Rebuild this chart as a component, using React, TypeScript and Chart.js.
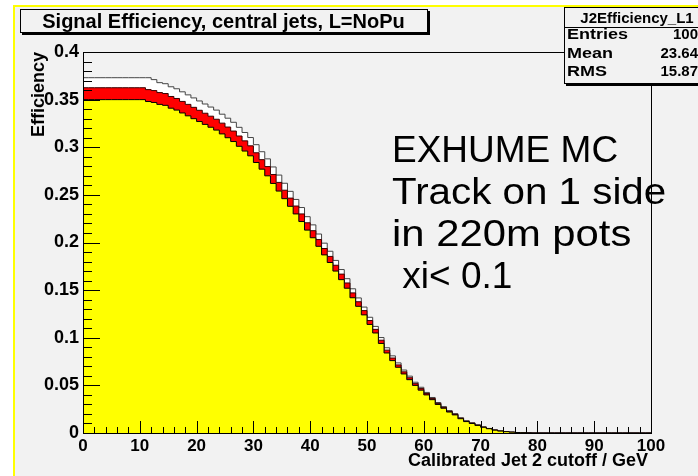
import React, { useEffect, useRef } from "react";
import { Chart, registerables } from "chart.js";

Chart.register(...registerables);

// ---------- data ----------
const binEdges: number[] = Array.from({ length: 101 }, (_, i) => i); // 1 GeV bins, 0..100

// efficiency per bin (bin i = [i, i+1) GeV cutoff)
const yellowEff: number[] = [
  0.350, 0.350, 0.350, 0.350, 0.350, 0.350, 0.350, 0.350, 0.350, 0.350,
  0.350, 0.350, 0.348, 0.347, 0.345, 0.344, 0.341, 0.339, 0.336, 0.333,
  0.330, 0.327, 0.324, 0.321, 0.318, 0.314, 0.310, 0.306, 0.301, 0.296,
  0.291, 0.284, 0.277, 0.270, 0.262, 0.254, 0.246, 0.238, 0.230, 0.222,
  0.213, 0.205, 0.196, 0.187, 0.179, 0.170, 0.161, 0.152, 0.142, 0.133,
  0.124, 0.114, 0.105, 0.094, 0.084, 0.076, 0.069, 0.062, 0.056, 0.050,
  0.045, 0.040, 0.035, 0.030, 0.026, 0.022, 0.019, 0.015, 0.012, 0.010,
  0.008, 0.006, 0.0045, 0.003, 0.002, 0.0014, 0.0009, 0.0005, 0.0003, 0.0001,
  0, 0, 0, 0, 0, 0, 0, 0, 0, 0,
  0, 0, 0, 0, 0, 0, 0, 0, 0, 0,
];

const redEff: number[] = [
  0.3625, 0.3625, 0.3625, 0.3625, 0.3625, 0.3625, 0.3625, 0.3625, 0.3625, 0.3625,
  0.3625, 0.3625, 0.3605, 0.3595, 0.3574, 0.3564, 0.3533, 0.3512, 0.3481, 0.345,
  0.3419, 0.3388, 0.3357, 0.3326, 0.3294, 0.3253, 0.3212, 0.317, 0.3118, 0.3067,
  0.3015, 0.2942, 0.287, 0.2797, 0.2714, 0.2631, 0.2549, 0.2466, 0.2383, 0.23,
  0.2207, 0.2124, 0.2031, 0.1937, 0.1854, 0.1761, 0.1668, 0.1575, 0.1471, 0.1378,
  0.1285, 0.1181, 0.1088, 0.0974, 0.087, 0.0787, 0.0715, 0.0642, 0.058, 0.0518,
  0.0466, 0.0414, 0.0363, 0.0311, 0.0269, 0.0228, 0.0197, 0.0155, 0.0124, 0.0104,
  0.0083, 0.0062, 0.0047, 0.0031, 0.0021, 0.0015, 0.0009, 0.0005, 0.0003, 0.0001,
  0, 0, 0, 0, 0, 0, 0, 0, 0, 0,
  0, 0, 0, 0, 0, 0, 0, 0, 0, 0,
];

const whiteEff: number[] = [
  0.373, 0.373, 0.373, 0.373, 0.373, 0.373, 0.373, 0.373, 0.373, 0.373,
  0.373, 0.373, 0.373, 0.371, 0.3678, 0.3667, 0.3635, 0.3614, 0.3582, 0.355,
  0.3518, 0.3486, 0.3454, 0.3422, 0.339, 0.3347, 0.3305, 0.3262, 0.3209, 0.3155,
  0.3102, 0.3027, 0.2953, 0.2878, 0.2793, 0.2708, 0.2622, 0.2537, 0.2452, 0.2367,
  0.2271, 0.2185, 0.2089, 0.1993, 0.1908, 0.1812, 0.1716, 0.162, 0.1514, 0.1418,
  0.1322, 0.1215, 0.1119, 0.1002, 0.0895, 0.081, 0.0736, 0.0661, 0.0597, 0.0533,
  0.048, 0.0426, 0.0373, 0.032, 0.0277, 0.0235, 0.0203, 0.016, 0.0128, 0.0107,
  0.0085, 0.0064, 0.0048, 0.0032, 0.0021, 0.0015, 0.0009, 0.0005, 0.0003, 0.0001,
  0, 0, 0, 0, 0, 0, 0, 0, 0, 0,
  0, 0, 0, 0, 0, 0, 0, 0, 0, 0,
];

const xMajorStep = 10;
const xMinorStep = 2;
const yMajorStep = 0.05;
const yMinorStep = 0.01;
const xRange = [0, 100];
const yRange = [0, 0.4];

const titleText = "Signal Efficiency, central jets, L=NoPu";
const xTitle = "Calibrated Jet 2 cutoff / GeV";
const yTitle = "Efficiency";
const statsName = "J2Efficiency_L1";
const statsLabels = ["Entries", "Mean", "RMS"];
const statsValues = ["100", "23.64", "15.87"];
const noteLines = ["EXHUME MC", "Track on 1 side", "in 220m pots", " xi< 0.1"];

// ---------- styles ----------
const FONT = '"Liberation Sans", Arial, Helvetica, sans-serif';
const BG = "#f2f2f2";

function toSteps(vals: number[]) {
  return binEdges.map((x, i) => ({ x, y: vals[Math.min(i, vals.length - 1)] }));
}

// draw text stretched horizontally by factor sx
function stretchText(ctx: any, text: string, x: number, y: number, sx: number, align: string) {
  ctx.save();
  ctx.translate(x, y);
  ctx.scale(sx, 1);
  ctx.textAlign = align;
  ctx.fillText(text, 0, 0);
  ctx.restore();
}

const decorPlugin = {
  id: "rootDecor",
  beforeDraw(chart: any) {
    const { ctx, width: W, height: H } = chart;
    ctx.save();
    ctx.fillStyle = "#ffffff";
    ctx.fillRect(0, 0, W, H);
    ctx.fillStyle = BG;
    ctx.fillRect(15, 7, W - 15, H - 7);
    ctx.fillStyle = "#ffff00";
    ctx.fillRect(13, 5, W - 13, 2);
    ctx.fillRect(13, 5, 2, H - 5);
    ctx.restore();
  },
  afterDatasetsDraw(chart: any) {
    const { ctx, chartArea: a, scales } = chart;
    const xs = scales.x;
    const ys = scales.y;
    ctx.save();
    ctx.strokeStyle = "#000";
    ctx.lineWidth = 1;
    ctx.beginPath();
    const nx = Math.round((xRange[1] - xRange[0]) / xMinorStep);
    for (let k = 0; k <= nx; k++) {
      const v = xRange[0] + k * xMinorStep;
      const px = Math.round(xs.getPixelForValue(v)) + 0.5;
      const major = Math.abs(v / xMajorStep - Math.round(v / xMajorStep)) < 1e-6;
      const len = major ? 12 : 6;
      ctx.moveTo(px, a.bottom);
      ctx.lineTo(px, a.bottom - len);
    }
    const ny = Math.round((yRange[1] - yRange[0]) / yMinorStep);
    for (let k = 0; k <= ny; k++) {
      const v = yRange[0] + k * yMinorStep;
      const py = Math.round(ys.getPixelForValue(v)) + 0.5;
      const major = Math.abs(v / yMajorStep - Math.round(v / yMajorStep)) < 1e-6;
      const len = major ? 17 : 9;
      ctx.moveTo(a.left, py);
      ctx.lineTo(a.left + len, py);
    }
    ctx.stroke();
    ctx.strokeRect(Math.round(a.left) + 0.5, Math.round(a.top) + 0.5, Math.round(a.right - a.left), Math.round(a.bottom - a.top));
    ctx.restore();
  },
  afterDraw(chart: any) {
    const { ctx, chartArea: a, width: W } = chart;
    ctx.save();

    // title box with shadow
    const tb = { x: 20, y: 9, w: 407, h: 23 };
    ctx.fillStyle = "#000";
    ctx.fillRect(tb.x + 2, tb.y + 2, tb.w + 1, tb.h + 1);
    ctx.fillStyle = BG;
    ctx.fillRect(tb.x, tb.y, tb.w, tb.h);
    ctx.strokeStyle = "#000";
    ctx.lineWidth = 1;
    ctx.strokeRect(tb.x + 0.5, tb.y + 0.5, tb.w, tb.h);
    ctx.fillStyle = "#000";
    ctx.font = `bold 20px ${FONT}`;
    ctx.textAlign = "center";
    ctx.textBaseline = "alphabetic";
    ctx.fillText(titleText, tb.x + tb.w / 2, 28);

    // stats box
    const sb = { x: 564, y: 7, w: W - 564 + 4, h: 76 };
    ctx.fillStyle = "#000";
    ctx.fillRect(sb.x + 2, sb.y + 2, sb.w, sb.h + 1);
    ctx.fillStyle = BG;
    ctx.fillRect(sb.x, sb.y, sb.w, sb.h);
    ctx.strokeRect(sb.x + 0.5, sb.y + 0.5, sb.w, sb.h);
    ctx.beginPath();
    ctx.moveTo(sb.x, 27.5);
    ctx.lineTo(W, 27.5);
    ctx.stroke();
    ctx.fillStyle = "#000";
    ctx.textBaseline = "alphabetic";
    ctx.font = `bold 15px ${FONT}`;
    stretchText(ctx, statsName, 637, 23, 1.0, "center");
    const rowY = [39, 57.5, 76];
    statsLabels.forEach((lab, i) => {
      stretchText(ctx, lab, 567, rowY[i], 1.2, "left");
      stretchText(ctx, statsValues[i], 698, rowY[i], 1.0, "right");
    });

    // annotation
    ctx.font = `37px ${FONT}`;
    ctx.textAlign = "left";
    ctx.textBaseline = "alphabetic";
    const baseY = [162, 204, 246, 288];
    const noteStretch = [1.0, 1.09, 1.13, 1.0];
    noteLines.forEach((t, i) => stretchText(ctx, t, 392, baseY[i], noteStretch[i], "left"));

    // axis titles
    ctx.font = `bold 18px ${FONT}`;
    ctx.textAlign = "right";
    ctx.fillText(xTitle, a.right - 3, 466);
    ctx.save();
    ctx.translate(44, a.top);
    ctx.rotate(-Math.PI / 2);
    ctx.textAlign = "right";
    ctx.fillText(yTitle, 0, 0);
    ctx.restore();

    ctx.restore();
  },
};

export default function App() {
  const ref = useRef<HTMLCanvasElement | null>(null);
  useEffect(() => {
    if (!ref.current) return;
    const chart = new Chart(ref.current, {
      type: "line",
      data: {
        datasets: [
          {
            label: "yellow",
            data: toSteps(yellowEff),
            stepped: "after",
            fill: "origin",
            backgroundColor: "#ffff00",
            borderColor: "#000000",
            borderWidth: 1,
            pointRadius: 0,
          },
          {
            label: "red",
            data: toSteps(redEff),
            stepped: "after",
            fill: "origin",
            backgroundColor: "#ff0000",
            borderColor: "#3a0000",
            borderWidth: 1,
            pointRadius: 0,
          },
          {
            label: "white",
            data: toSteps(whiteEff),
            stepped: "after",
            fill: "origin",
            backgroundColor: "#ffffff",
            borderColor: "#444444",
            borderWidth: 1,
            pointRadius: 0,
          },
        ],
      },
      options: {
        animation: false,
        responsive: false,
        devicePixelRatio: 1,
        layout: { padding: { left: 0, right: 47, top: 52, bottom: 0 } },
        plugins: { legend: { display: false }, tooltip: { enabled: false } },
        scales: {
          x: {
            type: "linear",
            min: xRange[0],
            max: xRange[1],
            grid: { display: false, drawTicks: false },
            border: { display: false },
            ticks: {
              stepSize: xMajorStep,
              color: "#000",
              font: { family: FONT, size: 17, weight: "bold" },
              padding: 3,
              maxRotation: 0,
              autoSkip: false,
            },
            afterFit: (s: any) => {
              s.height = 43;
            },
          },
          y: {
            type: "linear",
            min: yRange[0],
            max: yRange[1],
            grid: { display: false, drawTicks: false },
            border: { display: false },
            ticks: {
              stepSize: yMajorStep,
              color: "#000",
              font: { family: FONT, size: 18, weight: "bold" },
              padding: 4,
              callback: (v: any) => String(parseFloat(Number(v).toFixed(2))),
            },
            afterFit: (s: any) => {
              s.width = 83;
            },
          },
        },
      },
      plugins: [decorPlugin],
    } as any);
    return () => chart.destroy();
  }, []);
  return (
    <div style={{ position: "absolute", left: 0, top: 0, width: 698, height: 476 }}>
      <canvas ref={ref} width={698} height={476} style={{ display: "block" }} />
    </div>
  );
}
